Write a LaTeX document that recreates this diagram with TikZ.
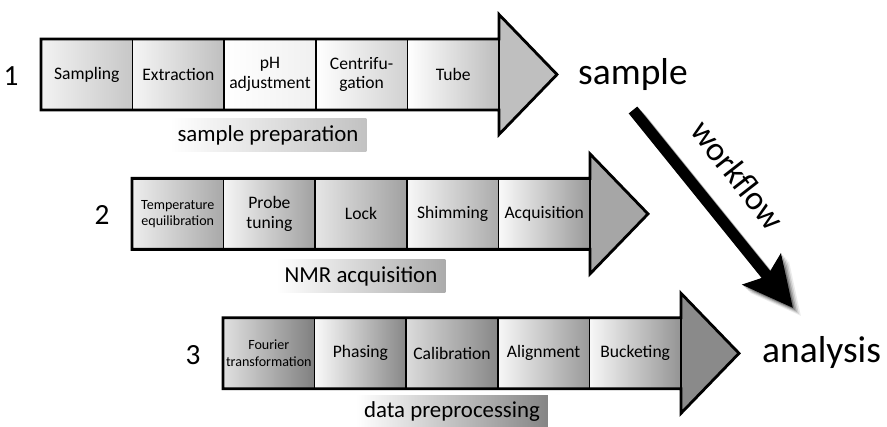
\documentclass[tikz,border=0pt]{standalone}
\usepackage{fontspec}
\setmainfont{Carlito}
\usetikzlibrary{arrows.meta}

\newcommand{\pxu}{0.03cm}

\tikzset{
  cellbox/.style={draw=black, line width=1.3pt, inner sep=0pt, align=center,
    minimum width=91.6*\pxu, minimum height=71*\pxu,
    font=\fontsize{15}{16.5}\selectfont},
  smallcell/.style={font=\fontsize{12}{14}\selectfont},
  stagelabel/.style={inner ysep=0pt, inner xsep=8*\pxu, minimum height=33*\pxu,
    font=\fontsize{19.5}{22}\selectfont},
  rownum/.style={inner sep=0pt, font=\fontsize{25}{26}\selectfont},
  endlabel/.style={inner sep=0pt, anchor=west, font=\fontsize{32}{34}\selectfont},
}

\begin{document}
\begin{tikzpicture}[x=0.03cm, y=-0.03cm]

  % Bounding box of the scheme
  \fill[white] (0,0) rectangle (887,427);
  \useasboundingbox (0,0) rectangle (887,427);

  %%%%%%%%%%%%%%%%%%%%%%%%%%%%%%%%% Heads of the stage arrows %%%%%%%%%%%%%%%%%%%%%%%%%%%%%%%%%
  \foreach \r/\g in {0/25, 1/35, 2/46} {
    \pgfmathsetmacro\xa{41+91*\r}
    \pgfmathsetmacro\yc{74.5+139.4*\r}
    \fill[black!\g] (\xa+458,\yc-60) -- (\xa+516,\yc) -- (\xa+458,\yc+60) -- cycle ;
  }

  %%%%%%%%%%%%%%%%%%%%%%%%%%%%%%%%% Steps %%%%%%%%%%%%%%%%%%%%%%%%%%%%%%%%%%%%%%%%%%%%%%%%%%%%%
  % Sample preparation
  \foreach \k/\txt/\lshade/\rshade/\st in {1/Sampling/5/22/cellbox, 2/Extraction/4/25/cellbox,
      3/pH\\adjustment/0/6/cellbox, 4/Centrifu-\\gation/0/18/cellbox, 5/Tube/0/26/cellbox} {
    \node[cellbox, \st, left color=black!\lshade, right color=black!\rshade] (prep\k)
      at ({41+91.6*(\k-0.5)},74.5) {\txt} ;
  }

  % NMR acquisition
  \foreach \k/\txt/\lshade/\rshade/\st in {1/Temperature\\equilibration/7/34/smallcell,
      2/Probe\\tuning/4/37/cellbox, 3/Lock/10/37/cellbox, 4/Shimming/3/33/cellbox,
      5/Acquisition/2/40/cellbox} {
    \node[cellbox, \st, left color=black!\lshade, right color=black!\rshade] (acq\k)
      at ({132+91.6*(\k-0.5)},213.9) {\txt} ;
  }

  % Data preprocessing
  \foreach \k/\txt/\lshade/\rshade/\st in {1/Fourier\\transformation/12/50/smallcell,
      2/Phasing/2/47/cellbox, 3/Calibration/14/47/cellbox, 4/Alignment/3/40/cellbox,
      5/Bucketing/3/42/cellbox} {
    \node[cellbox, \st, left color=black!\lshade, right color=black!\rshade] (proc\k)
      at ({223+91.6*(\k-0.5)},353.3) {\txt} ;
  }

  %%%%%%%%%%%%%%%%%%%%%%%%%%%%%%%%% Outlines of the stage arrows %%%%%%%%%%%%%%%%%%%%%%%%%%%%%%
  \foreach \r in {0,1,2} {
    \pgfmathsetmacro\xa{41+91*\r}
    \pgfmathsetmacro\yc{74.5+139.4*\r}
    \draw[line width=2.4pt] (\xa,\yc-35.5) -- (\xa+458,\yc-35.5) -- (\xa+458,\yc-60)
      -- (\xa+516,\yc) -- (\xa+458,\yc+60) -- (\xa+458,\yc+35.5) -- (\xa,\yc+35.5) -- cycle ;
  }

  %%%%%%%%%%%%%%%%%%%%%%%%%%%%%%%%% Labels %%%%%%%%%%%%%%%%%%%%%%%%%%%%%%%%%%%%%%%%%%%%%%%%%%%%
  \node[stagelabel, left color=white, right color=black!24] (prep) at (268,135) {sample preparation} ;
  \node[stagelabel, left color=white, right color=black!33] (acq) at (361,276) {NMR acquisition} ;
  \node[stagelabel, left color=white, right color=black!48] (proc) at (452,412) {data preprocessing} ;

  \node[rownum] (n1) at (11,76) {1} ;
  \node[rownum] (n2) at (102,215) {2} ;
  \node[rownum] (n3) at (193,355) {3} ;

  \node[endlabel] (sample) at (578,75) {sample} ;
  \node[endlabel] (analysis) at (762,353) {analysis} ;

  %%%%%%%%%%%%%%%%%%%%%%%%%%%%%%%%% Workflow arrow %%%%%%%%%%%%%%%%%%%%%%%%%%%%%%%%%%%%%%%%%%%%
  \coordinate (wfa) at (633,110) ;
  \coordinate (wfb) at (793,308) ;

  % Shadow
  \foreach \o/\op in {8/0.08, 6/0.12, 4/0.18, 2/0.25} {
    \draw[black, opacity=\op, line width=9.4pt, -{Stealth[length=42pt, width=41pt, inset=7pt]}]
      ([shift={(\o,\o)}]wfa) -- ([shift={(\o,\o)}]wfb) ;
  }
  \draw[black, line width=9.4pt, -{Stealth[length=42pt, width=41pt, inset=7pt]}] (wfa) -- (wfb) ;

  \node[rotate=-52, inner sep=0pt, font=\fontsize{29}{30}\selectfont] (wf) at (738,175) {workflow} ;

\end{tikzpicture}
\end{document}
